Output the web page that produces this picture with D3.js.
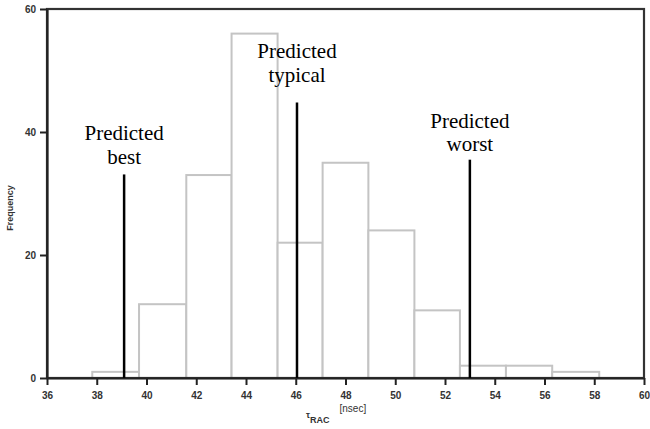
<!DOCTYPE html>
<html>
<head>
<meta charset="utf-8">
<script src="https://cdn.jsdelivr.net/npm/d3@7"></script>
<style>
  body { margin: 0; background: #fff; }
  svg { display: block; }
</style>
</head>
<body>
<div id="canvas"></div>
<script>
// histogram bins (nsec) and counts
var binEdges = [37.82, 39.70, 41.60, 43.42, 45.27, 47.08, 48.92, 50.77, 52.60, 54.45, 56.31, 58.2];
var counts = [1, 12, 33, 56, 22, 35, 24, 11, 2, 2, 1];

// predicted delays: x position, top of marker line, label baseline (frequency units)
var predNames = ["best", "typical", "worst"];
var predX = [39.1, 46.05, 53.0];
var predTop = [33.1, 44.8, 35.5];
var predLabelY = [34.8, 48.2, 36.9];

var xTicks = [36, 38, 40, 42, 44, 46, 48, 50, 52, 54, 56, 58, 60];
var yTicks = [0, 20, 40, 60];

var width = 650, height = 429;
//note: "top" is taken by window.top, so use plot* names
var plotLeft = 47, plotRight = 644, plotTop = 9, plotBottom = 378;

var svg = d3.select("#canvas").append("svg")
  .attr("width", width)
  .attr("height", height);

var x = d3.scaleLinear().domain([36, 60]).range([plotLeft, plotRight]);
var y = d3.scaleLinear().domain([0, 60]).range([plotBottom, plotTop]);

//build bin objects from edges + counts
var bins = counts.map(function(c, i){
  return {x0: binEdges[i], x1: binEdges[i + 1], n: c};
});

svg.selectAll("rect.bar")
  .data(bins)
  .enter()
  .append("rect")
  .attr("class", "bar")
  .attr("x", function(d){ return x(d.x0); })
  .attr("y", function(d){ return y(d.n); })
  .attr("width", function(d){ return x(d.x1) - x(d.x0); })
  .attr("height", function(d){ return y(0) - y(d.n); })
  .attr("fill", "#fff")
  .attr("stroke", "#c4c4c4")
  .attr("stroke-width", 2);

//frame around plot
svg.append("rect")
  .attr("x", plotLeft)
  .attr("y", plotTop)
  .attr("width", plotRight - plotLeft)
  .attr("height", plotBottom - plotTop)
  .attr("fill", "none")
  .attr("stroke", "#333")
  .attr("stroke-width", 2.2);

//x axis
var xAxis = svg.append("g")
  .attr("transform", "translate(0," + plotBottom + ")")
  .call(d3.axisBottom(x).tickValues(xTicks).tickSize(7).tickSizeOuter(0).tickPadding(7));

//y axis
var yAxis = svg.append("g")
  .attr("transform", "translate(" + plotLeft + ",0)")
  .call(d3.axisLeft(y).tickValues(yTicks).tickSize(7).tickSizeOuter(0).tickPadding(4));

[xAxis, yAxis].forEach(function(a){
  a.select(".domain").attr("stroke", "#222").attr("stroke-width", 2.2);
  a.selectAll(".tick line").attr("stroke", "#222").attr("stroke-width", 2);
  a.selectAll(".tick text")
    .attr("fill", "#333")
    .style("font-family", "Liberation Sans, Arial, sans-serif")
    .style("font-weight", "bold")
    .style("font-size", "10px");
});

//axis titles
svg.append("text")
  .attr("transform", "translate(13,208) rotate(-90)")
  .attr("text-anchor", "middle")
  .attr("fill", "#333")
  .style("font-family", "Liberation Sans, Arial, sans-serif")
  .style("font-weight", "bold")
  .style("font-size", "9px")
  .text("Frequency");

var xt = svg.append("text")
  .attr("x", 306)
  .attr("y", 418)
  .attr("fill", "#333")
  .style("font-family", "Liberation Sans, Arial, sans-serif")
  .style("font-weight", "bold")
  .style("font-size", "9px");
xt.append("tspan").text("τ");
xt.append("tspan").attr("dy", 5).text("RAC");
xt.append("tspan").attr("dx", 10).attr("dy", -11).style("font-weight", "normal").style("font-size", "10px").text("[nsec]");

//predicted markers
predNames.forEach(function(name, i){
  svg.append("line")
    .attr("x1", x(predX[i]))
    .attr("x2", x(predX[i]))
    .attr("y1", y(0))
    .attr("y2", y(predTop[i]))
    .attr("stroke", "#000")
    .attr("stroke-width", 2.5);

  var t = svg.append("text")
    .attr("text-anchor", "middle")
    .attr("fill", "#000")
    .style("font-family", "Liberation Serif, Times New Roman, serif")
    .style("font-size", "21px");
  t.append("tspan").attr("x", x(predX[i])).attr("y", y(predLabelY[i]) - 23.5).text("Predicted");
  t.append("tspan").attr("x", x(predX[i])).attr("y", y(predLabelY[i])).text(name);
});
</script>
</body>
</html>
